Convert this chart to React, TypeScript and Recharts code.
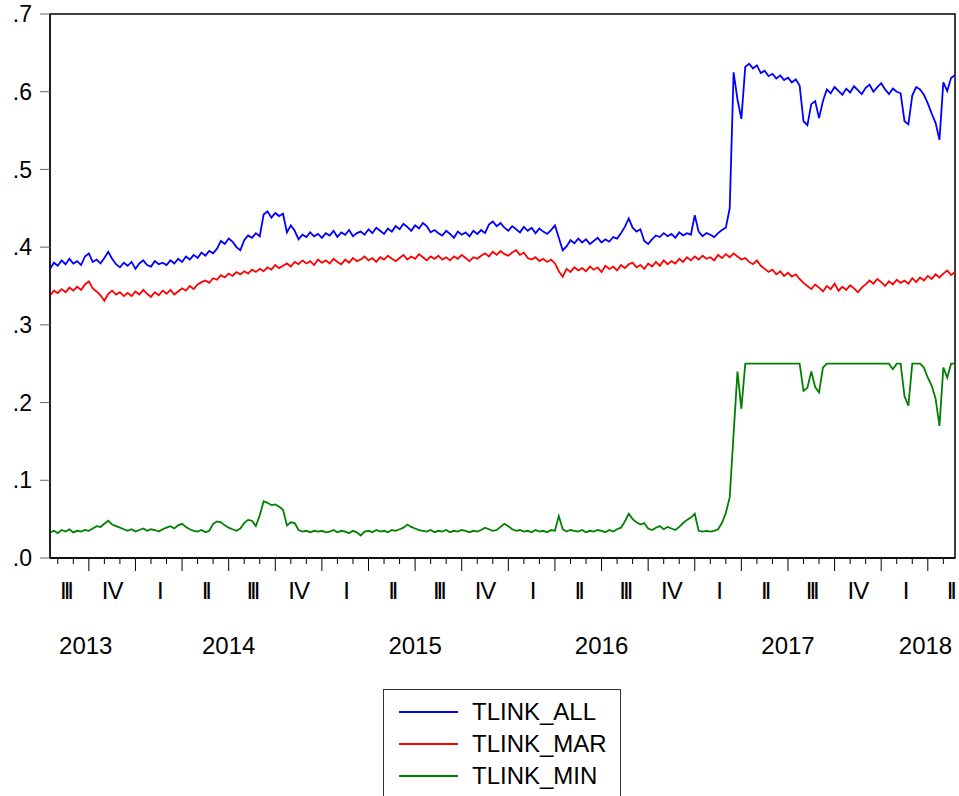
import { LineChart, Line, XAxis, YAxis, Legend, ReferenceArea } from "recharts";

// sampling: months since Jan 2013, roughly weekly from mid-Jul 2013 to late May 2018
const START = 6.5;
const STEP = 0.25;

const TLINK_ALL = [
  0.372, 0.380, 0.376, 0.383, 0.378, 0.385, 0.379, 0.382, 0.377, 0.388,
  0.392, 0.381, 0.384, 0.379, 0.386, 0.394, 0.385, 0.378, 0.374, 0.380,
  0.376, 0.381, 0.372, 0.379, 0.383, 0.377, 0.375, 0.382, 0.378, 0.380,
  0.377, 0.383, 0.379, 0.385, 0.381, 0.388, 0.384, 0.390, 0.386, 0.393,
  0.389, 0.395, 0.392, 0.398, 0.408, 0.404, 0.411, 0.407, 0.400, 0.396,
  0.409, 0.415, 0.412, 0.418, 0.414, 0.442, 0.446, 0.438, 0.444, 0.440,
  0.443, 0.419, 0.428, 0.421, 0.410, 0.416, 0.413, 0.419, 0.414, 0.417,
  0.412, 0.418, 0.415, 0.421, 0.413, 0.419, 0.416, 0.422, 0.414, 0.418,
  0.420, 0.416, 0.423, 0.418, 0.425, 0.421, 0.417, 0.424, 0.420, 0.427,
  0.423, 0.430, 0.426, 0.421, 0.428, 0.424, 0.431, 0.427, 0.419, 0.422,
  0.418, 0.415, 0.421, 0.417, 0.412, 0.420, 0.416, 0.419, 0.414, 0.421,
  0.417, 0.422, 0.418, 0.429, 0.433, 0.427, 0.431, 0.425, 0.421, 0.427,
  0.423, 0.419, 0.426, 0.421, 0.425, 0.418, 0.424, 0.420, 0.417, 0.422,
  0.428, 0.412, 0.396, 0.401, 0.409, 0.405, 0.411, 0.406, 0.410, 0.404,
  0.408, 0.412, 0.406, 0.410, 0.407, 0.413, 0.411, 0.418, 0.426, 0.437,
  0.425, 0.420, 0.423, 0.408, 0.404, 0.410, 0.415, 0.413, 0.418, 0.414,
  0.417, 0.412, 0.419, 0.415, 0.418, 0.416, 0.441, 0.420, 0.414, 0.418,
  0.416, 0.413, 0.418, 0.422, 0.425, 0.450, 0.625, 0.590, 0.565, 0.632,
  0.636, 0.630, 0.634, 0.624, 0.627, 0.620, 0.623, 0.617, 0.621, 0.615,
  0.618, 0.612, 0.616, 0.608, 0.562, 0.557, 0.584, 0.588, 0.566, 0.588,
  0.603, 0.598, 0.606, 0.601, 0.596, 0.604, 0.599, 0.607, 0.602, 0.597,
  0.605, 0.609, 0.600, 0.606, 0.611, 0.603, 0.597, 0.604, 0.600, 0.598,
  0.562, 0.558, 0.595, 0.606, 0.603, 0.596, 0.585, 0.572, 0.560, 0.538,
  0.612, 0.601, 0.618, 0.621,
];

const TLINK_MAR = [
  0.338, 0.344, 0.341, 0.346, 0.342, 0.348, 0.344, 0.349, 0.345, 0.352,
  0.356, 0.347, 0.343, 0.338, 0.331, 0.340, 0.344, 0.339, 0.342, 0.337,
  0.341, 0.337, 0.343, 0.339, 0.345, 0.340, 0.336, 0.342, 0.338, 0.344,
  0.340, 0.345, 0.339, 0.343, 0.347, 0.344, 0.350, 0.346, 0.352, 0.355,
  0.357, 0.354, 0.360, 0.358, 0.364, 0.361, 0.366, 0.363, 0.368, 0.365,
  0.369, 0.366, 0.371, 0.368, 0.372, 0.369, 0.374, 0.371, 0.377, 0.373,
  0.376, 0.379, 0.375, 0.381, 0.378, 0.383, 0.379, 0.382, 0.377, 0.384,
  0.380, 0.383, 0.379, 0.385, 0.381, 0.378, 0.384, 0.380, 0.386, 0.382,
  0.384, 0.388, 0.383, 0.386, 0.381, 0.387, 0.384, 0.389, 0.385, 0.382,
  0.386, 0.390, 0.384, 0.388, 0.385, 0.391, 0.387, 0.383, 0.388, 0.385,
  0.389, 0.384, 0.387, 0.383, 0.388, 0.385, 0.390, 0.386, 0.382, 0.387,
  0.385, 0.389, 0.392, 0.388, 0.394, 0.390, 0.395, 0.391, 0.389, 0.393,
  0.396, 0.390, 0.393, 0.386, 0.384, 0.387, 0.382, 0.385, 0.381, 0.384,
  0.379, 0.369, 0.362, 0.372, 0.368, 0.374, 0.370, 0.373, 0.369, 0.375,
  0.371, 0.374, 0.368, 0.376, 0.372, 0.375, 0.370, 0.377, 0.373, 0.378,
  0.380, 0.374, 0.377, 0.372, 0.379, 0.375, 0.381, 0.376, 0.383, 0.378,
  0.382, 0.379, 0.385, 0.381, 0.387, 0.383, 0.388, 0.384, 0.389, 0.385,
  0.387, 0.383, 0.390, 0.386, 0.391, 0.387, 0.392, 0.388, 0.384, 0.386,
  0.381, 0.378, 0.383, 0.376, 0.372, 0.368, 0.371, 0.365, 0.369, 0.363,
  0.367, 0.362, 0.365, 0.359, 0.354, 0.350, 0.346, 0.352, 0.348, 0.343,
  0.350, 0.346, 0.353, 0.344, 0.349, 0.345, 0.351, 0.347, 0.342, 0.348,
  0.352, 0.357, 0.353, 0.359, 0.355, 0.350, 0.356, 0.352, 0.358, 0.354,
  0.357, 0.353, 0.360, 0.355, 0.361, 0.357, 0.363, 0.359, 0.365, 0.361,
  0.366, 0.370, 0.364, 0.368,
];

const TLINK_MIN = [
  0.033, 0.035, 0.032, 0.036, 0.034, 0.037, 0.033, 0.035, 0.034, 0.036,
  0.035, 0.038, 0.041, 0.040, 0.044, 0.048, 0.043, 0.041, 0.039, 0.037,
  0.035, 0.037, 0.034, 0.036, 0.038, 0.035, 0.037, 0.036, 0.034, 0.037,
  0.039, 0.041, 0.038, 0.042, 0.044, 0.040, 0.037, 0.035, 0.034, 0.036,
  0.033, 0.035, 0.044, 0.047, 0.046, 0.042, 0.039, 0.037, 0.035, 0.038,
  0.045, 0.049, 0.048, 0.041, 0.055, 0.073, 0.071, 0.068, 0.069, 0.066,
  0.062, 0.042, 0.046, 0.045, 0.036, 0.034, 0.035, 0.033, 0.035, 0.034,
  0.035, 0.033, 0.034, 0.036, 0.033, 0.035, 0.034, 0.032, 0.035, 0.033,
  0.029, 0.034, 0.035, 0.033, 0.036, 0.034, 0.035, 0.033, 0.036, 0.035,
  0.037, 0.039, 0.043, 0.040, 0.038, 0.036, 0.035, 0.034, 0.036, 0.033,
  0.035, 0.034, 0.036, 0.033, 0.035, 0.034, 0.036, 0.035, 0.033, 0.035,
  0.034, 0.036, 0.039, 0.037, 0.035, 0.036, 0.040, 0.044, 0.041, 0.037,
  0.035, 0.036, 0.034, 0.035, 0.033, 0.036, 0.034, 0.035, 0.033, 0.036,
  0.035, 0.054, 0.037, 0.034, 0.036, 0.035, 0.034, 0.036, 0.033, 0.035,
  0.034, 0.036, 0.035, 0.033, 0.036, 0.034, 0.037, 0.039, 0.047, 0.057,
  0.050, 0.046, 0.043, 0.045, 0.038, 0.036, 0.039, 0.041, 0.037, 0.040,
  0.038, 0.036, 0.040, 0.045, 0.049, 0.052, 0.057, 0.035, 0.034, 0.035,
  0.034, 0.035, 0.037, 0.045, 0.058, 0.078, 0.160, 0.240, 0.192, 0.250,
  0.250, 0.250, 0.250, 0.250, 0.250, 0.250, 0.250, 0.250, 0.250, 0.250,
  0.250, 0.250, 0.250, 0.250, 0.215, 0.219, 0.240, 0.220, 0.213, 0.245,
  0.250, 0.250, 0.250, 0.250, 0.250, 0.250, 0.250, 0.250, 0.250, 0.250,
  0.250, 0.250, 0.250, 0.250, 0.250, 0.250, 0.250, 0.243, 0.250, 0.250,
  0.208, 0.196, 0.250, 0.250, 0.250, 0.245, 0.232, 0.222, 0.205, 0.170,
  0.245, 0.232, 0.250, 0.250,
];

const ROMAN = ["I", "II", "III", "IV"];
const YEARS = ["2013", "2014", "2015", "2016", "2017", "2018"];
const YEAR_TICKS = [8.8, 18, 30, 42, 54, 62.85];
const Y_TICKS = [0, 0.1, 0.2, 0.3, 0.4, 0.5, 0.6, 0.7];

const X_MIN = 6.5;
const X_MAX = 64.75;

const data = TLINK_ALL.map((v, i) => ({
  t: START + STEP * i,
  TLINK_ALL: v,
  TLINK_MAR: TLINK_MAR[i],
  TLINK_MIN: TLINK_MIN[i],
}));

// month ticks (small), quarter starts (long), quarter labels at mid-quarter
const monthTicks = Array.from({ length: 58 }, (_, k) => 7 + k);
const quarterMids = Array.from({ length: 19 }, (_, k) => 7.5 + 3 * k).concat([64.45]);
const xTicks = [...monthTicks, ...quarterMids];

const FONT = "'Liberation Sans', Arial, sans-serif";

function QuarterTick(props: any) {
  const { x, y, payload } = props;
  const v = payload.value;
  if (Number.isInteger(v)) {
    const len = v % 3 === 0 ? 13 : 6;
    return <line x1={x} y1={y} x2={x} y2={y + len} stroke="#000" strokeWidth={1} />;
  }
  const label = ROMAN[Math.floor(v / 3) % 4];
  return (
    <text
      x={x}
      y={y + 32}
      textAnchor="middle"
      dominantBaseline="central"
      fontSize={24}
      fontFamily={FONT}
      fill="#000"
      letterSpacing={label === "IV" ? -1 : -3}
    >
      {label}
    </text>
  );
}

function YearTick(props: any) {
  const { x, y, index } = props;
  return (
    <text x={x} y={y + 27} textAnchor="middle" dominantBaseline="central" fontSize={24} fontFamily={FONT} fill="#000">
      {YEARS[index]}
    </text>
  );
}

function LegendBox(props: any) {
  const items = props.payload || [];
  return (
    <div
      style={{
        border: "1px solid #333",
        borderBottom: "none",
        width: 238,
        height: 107,
        boxSizing: "border-box",
        background: "#fff",
        fontFamily: FONT,
        fontSize: 24,
        paddingTop: 6,
      }}
    >
      {items.map((it: any) => (
        <div key={it.value} style={{ display: "flex", alignItems: "center", height: 32 }}>
          <div style={{ width: 59, height: 2, background: it.color, marginLeft: 15, marginRight: 14 }} />
          <span style={{ color: "#000" }}>{it.value}</span>
        </div>
      ))}
    </div>
  );
}

export default function App() {
  return (
    <div style={{ position: "absolute", left: 0, top: 0, background: "#fff" }}>
      <LineChart
        width={959}
        height={796}
        data={data}
        margin={{ top: 14, right: 4, left: 0, bottom: 21 }}
        style={{ fontFamily: FONT }}
      >
        <XAxis
          xAxisId="q"
          dataKey="t"
          type="number"
          domain={[X_MIN, X_MAX]}
          allowDataOverflow
          ticks={xTicks}
          interval={0}
          tickSize={0}
          tickMargin={0}
          tickLine={false}
          tick={<QuarterTick />}
          axisLine={{ stroke: "#000", strokeWidth: 1.5 }}
          height={60}
        />
        <XAxis
          xAxisId="yr"
          dataKey="t"
          type="number"
          domain={[X_MIN, X_MAX]}
          allowDataOverflow
          ticks={YEAR_TICKS}
          interval={0}
          tickSize={0}
          tickMargin={0}
          tickLine={false}
          axisLine={false}
          tick={<YearTick />}
          height={50}
        />
        <YAxis
          domain={[0, 0.7]}
          ticks={Y_TICKS}
          interval={0}
          width={50}
          tickSize={10}
          tickMargin={8}
          tickFormatter={(v: number) => v.toFixed(1).replace(/^0/, "")}
          tick={{ fontSize: 23, fill: "#000", fontFamily: FONT }}
          tickLine={{ stroke: "#666" }}
          axisLine={{ stroke: "#000" }}
        />
        <ReferenceArea
          xAxisId="q"
          x1={X_MIN}
          x2={X_MAX}
          y1={0}
          y2={0.7}
          fill="none"
          stroke="#000"
          strokeWidth={1.5}
          ifOverflow="visible"
        />
        <Line xAxisId="q" type="linear" dataKey="TLINK_ALL" stroke="#0000ff" strokeWidth={1.8} dot={false} isAnimationActive={false} />
        <Line xAxisId="q" type="linear" dataKey="TLINK_MAR" stroke="#ff0000" strokeWidth={1.8} dot={false} isAnimationActive={false} />
        <Line xAxisId="q" type="linear" dataKey="TLINK_MIN" stroke="#008000" strokeWidth={1.8} dot={false} isAnimationActive={false} />
        <Legend
          layout="vertical"
          align="center"
          verticalAlign="bottom"
          content={<LegendBox />}
          wrapperStyle={{ left: 383, top: 689, bottom: "auto", right: "auto", width: 238, height: 107 }}
        />
      </LineChart>
    </div>
  );
}
